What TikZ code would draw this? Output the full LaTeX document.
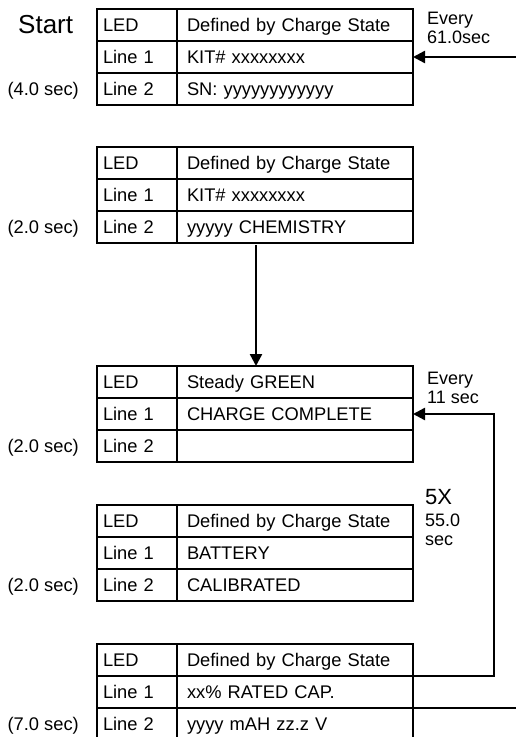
\documentclass[tikz,border=0pt]{standalone}
\usepackage{fontspec}
\setmainfont{Liberation Sans}
\usetikzlibrary{arrows.meta,calc}
\newcommand\tablefont{\fontsize{18.3}{20}\selectfont}
\newcommand\lcdtable[6]{%
  \node[lcell,anchor=north west] (#1-a1) at (97,#2) {LED};
  \node[rcell,anchor=north west] (#1-b1) at (177,#2) {#3};
  \node[lcell,anchor=north west] (#1-a2) at (#1-a1.south west) {Line 1};
  \node[rcell,anchor=north west] (#1-b2) at (#1-b1.south west) {#4};
  \node[lcell,anchor=north west] (#1-a3) at (#1-a2.south west) {Line 2};
  \node[rcell,anchor=north west] (#1-b3) at (#1-b2.south west) {#5};
  \node[timelab] (#1-t) at (79,#2+86.5) {#6};
}
\begin{document}
\begin{tikzpicture}[x=1pt,y=-1pt,
  cellbase/.style={draw, line width=2.4pt, outer sep=0pt, minimum height=32pt, inner ysep=0pt,
    align=left, font=\tablefont, text height=13pt, text depth=0pt},
  lcell/.style={cellbase, text width=68pt, inner xsep=6pt},
  rcell/.style={cellbase, text width=216pt, inner xsep=10pt},
  timelab/.style={anchor=base east, inner sep=0pt, font=\tablefont},
  note/.style={anchor=north west, inner sep=0pt, align=left, font=\fontsize{18}{19}\selectfont},
  arr/.style={line width=2.4pt, -{Triangle[length=12pt,width=12pt]}},
  conn/.style={line width=2.4pt}]
\useasboundingbox (0,0) rectangle (516,737);

\node[anchor=base west, inner sep=0pt, font=\fontsize{26}{28}\selectfont] (start) at (18,33) {Start};

\lcdtable{t1}{9}{Defined by Charge State}{KIT\# xxxxxxxx}{SN: yyyyyyyyyyyy}{(4.0 sec)}
\lcdtable{t2}{147}{Defined by Charge State}{KIT\# xxxxxxxx}{yyyyy CHEMISTRY}{(2.0 sec)}
\lcdtable{t3}{366}{Steady GREEN}{CHARGE COMPLETE}{}{(2.0 sec)}
\lcdtable{t4}{505}{Defined by Charge State}{BATTERY}{CALIBRATED}{(2.0 sec)}
\lcdtable{t5}{644}{Defined by Charge State}{xx\% RATED CAP.}{yyyy mAH zz.z V}{(7.0 sec)}

\node[note] (every1) at (427,12) {Every\\61.0sec};
\node[note] (every2) at (427,372) {Every\\11 sec};
\node[anchor=base west, inner sep=0pt, font=\fontsize{22}{24}\selectfont] (fivex) at (425,504) {5X};
\node[note] (dur) at (425,514) {55.0\\sec};

\coordinate (in1) at (516,57);
\coordinate (out1) at (516,708);

\draw[arr] (in1) -- (t1-b2.east);
\draw[arr] ($(t2-a3.south west)!0.5!(t2-b3.south east)+(1,2)$) -- ($(t3-a1.north west)!0.5!(t3-b1.north east)+(1,0)$);
\draw[arr] (t5-b2.north east) -- ++(81,0) |- (t3-b2.east);
\draw[conn] (t5-b3.north east) -- (out1);
\end{tikzpicture}
\end{document}
